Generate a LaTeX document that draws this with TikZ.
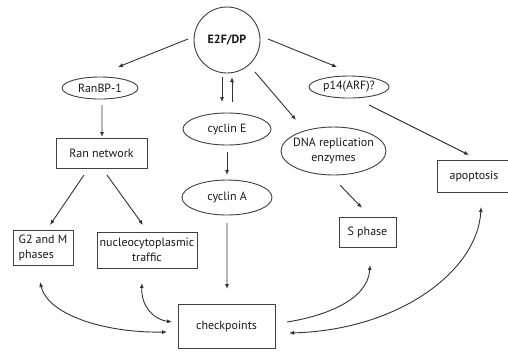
\documentclass[tikz,border=0pt]{standalone}
\usepackage{fontspec}
\setmainfont{PT Sans}
\usetikzlibrary{arrows.meta,shapes.geometric}
\newcommand\nwid[1]{\makebox[0pt]{#1}}
\begin{document}
\begin{tikzpicture}[x=1bp,y=-1bp,
  every node/.style={font=\fontsize{12}{14.5}\selectfont, text=black!90, draw=black!75, line width=0.9bp, inner sep=0pt},
  ell/.style={ellipse},
  boxn/.style={rectangle},
  conn/.style={draw=black!80, line width=0.9bp},
  arr/.style={conn, -{Latex[length=5bp,width=4bp]}},
  darr/.style={conn, {Latex[length=5bp,width=4bp]}-{Latex[length=5bp,width=4bp]}}]
\useasboundingbox (0,0) rectangle (508,351);
\fill[white] (0,0) rectangle (508,351);

\node[circle, minimum size=66bp, font=\bfseries\fontsize{12}{14}\selectfont] (e2f) at (227,40) {E2F/DP};
\node[ell, minimum width=76bp, minimum height=22bp] (ranbp) at (100,88) {\nwid{RanBP-1}};
\node[boxn, minimum width=91bp, minimum height=30bp] (rannet) at (101.5,153) {Ran network};
\node[ell, minimum width=88bp, minimum height=32bp] (cyce) at (227,129) {\nwid{cyclin E}};
\node[ell, minimum width=90bp, minimum height=35bp] (cyca) at (227,197.5) {\nwid{cyclin A}};
\node[ell, minimum width=105bp, minimum height=48bp, align=center] (dna) at (333.5,151) {\nwid{DNA replication}\\\nwid{enzymes}};
\node[ell, minimum width=80bp, minimum height=22bp] (p14) at (349,87) {\nwid{p14(ARF)?}};
\node[boxn, minimum width=60bp, minimum height=35bp, align=left] (g2m) at (43,248) {G2 and M\\phases};
\node[boxn, minimum width=100bp, minimum height=36bp, align=center] (nuc) at (147,250) {nucleocytoplasmic\\traffic};
\node[boxn, minimum width=57bp, minimum height=30bp] (sph) at (367.5,232) {S phase};
\node[boxn, minimum width=74bp, minimum height=32bp] (apop) at (474,176) {apoptosis};
\node[boxn, minimum width=97bp, minimum height=44bp] (chk) at (226.5,326.5) {checkpoints};

\draw[arr] ([shift={(-39,-1)}]e2f.center) -- ([shift={(18,-21)}]ranbp.center);
\draw[arr] ([shift={(2,17)}]ranbp.center) -- ([shift={(0.5,-16)}]rannet.center);
\draw[arr] ([shift={(-17.5,22)}]rannet.center) -- ([shift={(7,-23)}]g2m.center);
\draw[arr] ([shift={(5.5,22)}]rannet.center) -- ([shift={(-4,-25)}]nuc.center);
\draw[arr] ([shift={(-5,37)}]e2f.center) -- ([shift={(-5,-27)}]cyce.center);
\draw[arr] ([shift={(5,-27)}]cyce.center) -- ([shift={(5,37)}]e2f.center);
\draw[arr] ([shift={(0,23)}]cyce.center) -- ([shift={(0,-22.5)}]cyca.center);
\draw[arr] ([shift={(0,25.5)}]cyca.center) -- ([shift={(0.5,-37.5)}]chk.center);
\draw[arr] ([shift={(28,32)}]e2f.center) -- ([shift={(-37.5,-31)}]dna.center);
\draw[arr] ([shift={(41,-1)}]e2f.center) -- ([shift={(-12,-20)}]p14.center);
\draw[arr] ([shift={(20,18)}]p14.center) -- ([shift={(-5,-21)}]apop.center);
\draw[arr] ([shift={(6.5,34)}]dna.center) -- ([shift={(-5.5,-24)}]sph.center);

\draw[darr] ([shift={(-3,34)}]g2m.center) .. controls +(8,33) and +(-62,1) .. ([shift={(-59.5,5.5)}]chk.center);
\draw[darr] ([shift={(-5,33)}]nuc.center) .. controls +(-1,22) and +(-20,-3) .. ([shift={(-54.5,-4.5)}]chk.center);
\draw[arr] ([shift={(60.5,-4.5)}]chk.center) .. controls +(38,-6) and +(-2,35) .. ([shift={(2.5,33)}]sph.center);
\draw[darr] ([shift={(62.5,6.5)}]chk.center) .. controls +(111,-3) and +(-3,63) .. ([shift={(7,31)}]apop.center);
\end{tikzpicture}
\end{document}
